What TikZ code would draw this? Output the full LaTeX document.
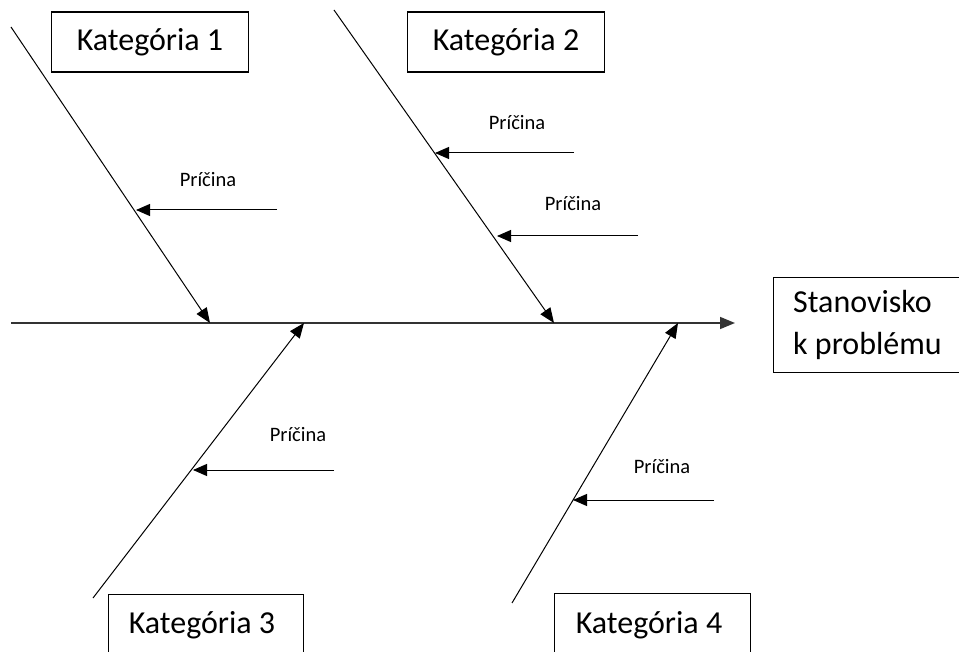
\documentclass[tikz,border=0pt]{standalone}
\usepackage{fontspec}
\setmainfont{Carlito}
\usetikzlibrary{arrows.meta}
\begin{document}
\begin{tikzpicture}[x=1pt,y=-1pt,
  bone/.style={line width=1pt,-{Triangle[length=15pt,width=12pt]}},
  spineline/.style={line width=1.6pt,draw=black!80,-{Triangle[length=15pt,width=12pt]}},
  cause/.style={line width=1pt,-{Triangle[length=14pt,width=12pt]}},
  catbox/.style={draw,line width=1.2pt,minimum width=197pt,minimum height=60pt,inner sep=0pt,font=\fontsize{32}{38}\selectfont},
  openbox/.style={draw,line width=1.2pt,inner sep=0pt},
  bigtext/.style={inner sep=0pt,font=\fontsize{32}{38}\selectfont},
  causetext/.style={inner sep=0pt,font=\fontsize{20.5}{24}\selectfont}]
\clip (0,0) rectangle (959,652);
\fill[white] (0,0) rectangle (959,652);
% boxes
\node[catbox] (k1) at (150,42) {Kategória 1};
\node[catbox] (k2) at (506,42) {Kategória 2};
\node[openbox,anchor=north west,minimum width=195pt,minimum height=90pt] (k3box) at (108,594) {};
\node[bigtext] (k3) at (202,625) {Kategória 3};
\node[openbox,anchor=north west,minimum width=196pt,minimum height=90pt] (k4box) at (554,593) {};
\node[bigtext] (k4) at (649,625) {Kategória 4};
\node[openbox,anchor=north west,minimum width=190pt,minimum height=95pt] (sbox) at (773,277) {};
\node[bigtext,anchor=base west] (s1) at (793,313) {Stanovisko};
\node[bigtext,anchor=base west] (s2) at (793,355) {k problému};
% coordinates
\coordinate (sp0) at (11,323);
\coordinate (sp1) at (735,323);
\coordinate (b1s) at (11,27);
\coordinate (b1e) at (210,323);
\coordinate (b2s) at (334,10);
\coordinate (b2e) at (554,323);
\coordinate (b3s) at (93,598);
\coordinate (b3e) at (304,323);
\coordinate (b4s) at (512,603);
\coordinate (b4e) at (678,323);
\coordinate (c1t) at (277,210);
\coordinate (c1h) at (136,210);
\coordinate (c2t) at (574,153);
\coordinate (c2h) at (435,153);
\coordinate (c3t) at (638,236);
\coordinate (c3h) at (497,236);
\coordinate (c4t) at (334,470);
\coordinate (c4h) at (193,470);
\coordinate (c5t) at (714,500);
\coordinate (c5h) at (573,500);
% spine and bones
\draw[spineline] (sp0) -- (sp1);
\draw[bone] (b1s) -- (b1e);
\draw[bone] (b2s) -- (b2e);
\draw[bone] (b3s) -- (b3e);
\draw[bone] (b4s) -- (b4e);
% causes
\draw[cause] (c1t) -- (c1h);
\draw[cause] (c2t) -- (c2h);
\draw[cause] (c3t) -- (c3h);
\draw[cause] (c4t) -- (c4h);
\draw[cause] (c5t) -- (c5h);
\node[causetext] (p1) at (208,180) {Príčina};
\node[causetext] (p2) at (517,123) {Príčina};
\node[causetext] (p3) at (573,204) {Príčina};
\node[causetext] (p4) at (298,435) {Príčina};
\node[causetext] (p5) at (662,467) {Príčina};
\end{tikzpicture}
\end{document}
